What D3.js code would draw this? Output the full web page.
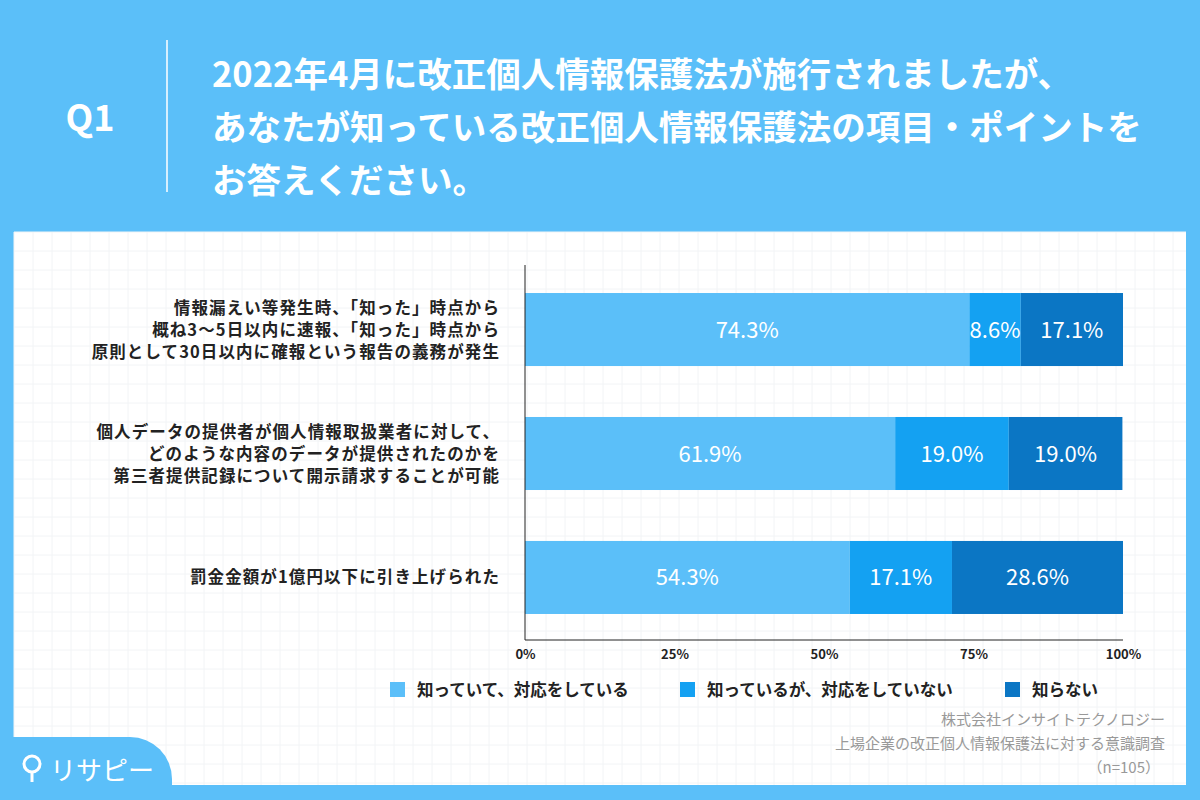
<!DOCTYPE html>
<html><head><meta charset="utf-8">
<script src="https://cdn.jsdelivr.net/npm/d3@7"></script>
<style>body{margin:0}svg{display:block}text{font-family:"Noto Sans CJK JP","Noto Sans",sans-serif}</style>
</head><body><svg id="c" width="1200" height="800"></svg>
<script>
const categories=[
 ["情報漏えい等発生時、「知った」時点から","概ね3〜5日以内に速報、「知った」時点から","原則として30日以内に確報という報告の義務が発生"],
 ["個人データの提供者が個人情報取扱業者に対して、","どのような内容のデータが提供されたのかを","第三者提供記録について開示請求することが可能"],
 ["罰金金額が1億円以下に引き上げられた"]];
const seriesNames=["知っていて、対応をしている","知っているが、対応をしていない","知らない"];
const s1=[74.3,61.9,54.3], s2=[8.6,19.0,17.1], s3=[17.1,19.0,28.6];
const ticks=[0,25,50,75,100];
const colors=["#5bbff9","#14a1f2","#0b76c4"];
const titleLines=["2022年4月に改正個人情報保護法が施行されましたが、","あなたが知っている改正個人情報保護法の項目・ポイントを","お答えください。"];
const source=["株式会社インサイトテクノロジー","上場企業の改正個人情報保護法に対する意識調査","（n=105）"];

const svg=d3.select("#c");
svg.append("rect").attr("width",1200).attr("height",800).attr("fill","#5bbff9");
svg.append("rect").attr("x",14).attr("y",232).attr("width",1172).attr("height",553).attr("fill","#fff");
const g0=svg.append("g").attr("stroke","#f2f4f6").attr("stroke-width",1);
for(let x=14;x<1186;x+=19)g0.append("line").attr("x1",x).attr("x2",x).attr("y1",232).attr("y2",785);
for(let y=232;y<785;y+=19)g0.append("line").attr("x1",14).attr("x2",1186).attr("y1",y).attr("y2",y);
svg.append("path").attr("d","M0,737 H130 A42,42 0 0 1 172,779 V800 H0 Z").attr("fill","#5bbff9");
svg.append("circle").attr("cx",32).attr("cy",764).attr("r",8).attr("fill","none").attr("stroke","#fff").attr("stroke-width",3);
svg.append("line").attr("x1",32).attr("x2",32).attr("y1",772).attr("y2",782).attr("stroke","#fff").attr("stroke-width",3);
svg.append("text").attr("x",50).attr("y",780).attr("fill","#fff").attr("font-size",26).text("リサピー");
svg.append("text").attr("x",90).attr("y",131).attr("text-anchor","middle").attr("fill","#fff").attr("font-size",36).attr("font-weight","bold").attr("font-family","Noto Sans").text("Q1");
svg.append("line").attr("x1",167).attr("x2",167).attr("y1",40).attr("y2",192).attr("stroke","#fff").attr("stroke-width",1.5);
titleLines.forEach((t,i)=>svg.append("text").attr("x",212).attr("y",87+i*53).attr("fill","#fff").attr("font-size",34.5).attr("font-weight","bold").text(t));

const x=d3.scaleLinear().domain([0,100]).range([525,1123]);
const yb=d3.scaleBand().domain(d3.range(3)).range([265,642]).paddingInner(0.411).paddingOuter(0.226);
const stack=[s1,s2,s3];
for(let i=0;i<3;i++){let acc=0;stack.forEach((s,k)=>{const v=s[i];
 svg.append("rect").attr("x",x(acc)).attr("y",yb(i)).attr("width",x(acc+v)-x(acc)).attr("height",yb.bandwidth()).attr("fill",colors[k]);
 svg.append("text").attr("x",(x(acc)+x(acc+v))/2).attr("y",yb(i)+yb.bandwidth()/2+8).attr("text-anchor","middle").attr("fill","#fff").attr("font-size",22).attr("font-family","Noto Sans").text(v.toFixed(1)+"%");
 acc+=v;});
 const L=categories[i], cy=yb(i)+yb.bandwidth()/2;
 L.forEach((t,j)=>svg.append("text").attr("x",500).attr("y",cy+6+(j-(L.length-1)/2)*22).attr("text-anchor","end").attr("font-size",16.5).attr("letter-spacing",1.1).attr("font-weight","bold").attr("fill","#222").text(t));
}
svg.append("line").attr("x1",525).attr("x2",525).attr("y1",265).attr("y2",640).attr("stroke","#222");
svg.append("line").attr("x1",525).attr("x2",1123).attr("y1",640).attr("y2",640).attr("stroke","#222");
const ax=svg.append("g").attr("transform","translate(0,640)").call(d3.axisBottom(x).tickValues(ticks).tickFormat(d=>d+"%").tickSize(0).tickPadding(10));
ax.select(".domain").remove();
ax.selectAll("text").attr("font-size",13).attr("font-weight","bold").attr("fill","#222").attr("font-family","Noto Sans");
const lx=[390,680,1005];
seriesNames.forEach((n,k)=>{svg.append("rect").attr("x",lx[k]).attr("y",682).attr("width",15).attr("height",15).attr("fill",colors[k]);
 svg.append("text").attr("x",lx[k]+27).attr("y",696).attr("font-size",16.5).attr("font-weight","bold").attr("fill","#222").text(n);});
source.forEach((t,i)=>svg.append("text").attr("x",i==2?1160:1165).attr("y",725+i*24).attr("text-anchor","end").attr("font-size",15).attr("fill","#999").text(t));
</script></body></html>
